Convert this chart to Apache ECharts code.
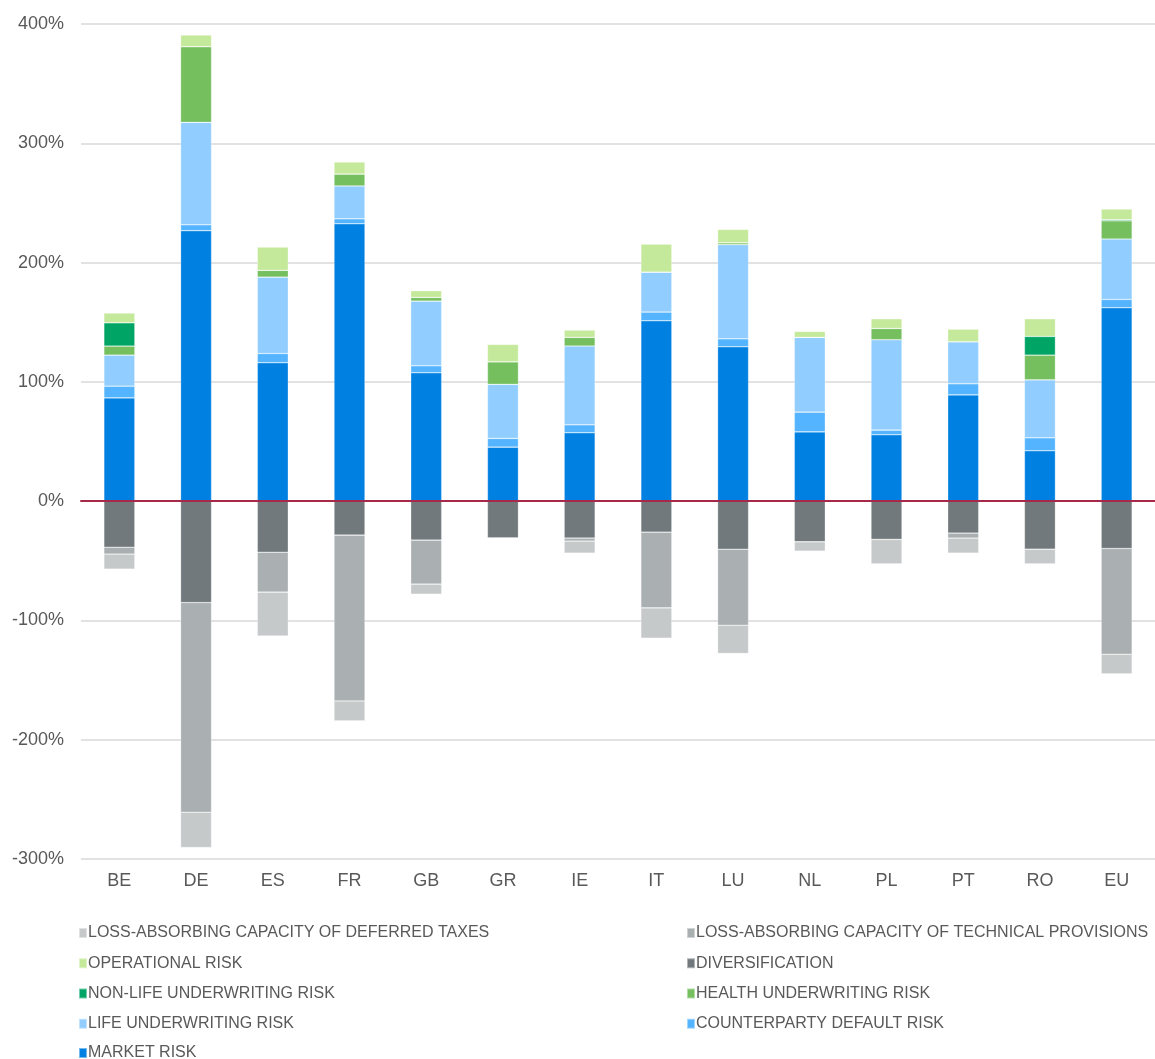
<!DOCTYPE html>
<html lang="en">
<head>
    <meta charset="UTF-8">
    <title>SCR composition by country</title>
    <script src="https://cdn.jsdelivr.net/npm/echarts@6/dist/echarts.min.js"></script>
    <style>
        html, body { margin: 0; padding: 0; background: #fff; }
        #main { width: 1155px; height: 1059px; }
    </style>
</head>
<body>
<div id="main"></div>
<script>
    // countries
    var countries = ['BE', 'DE', 'ES', 'FR', 'GB', 'GR', 'IE', 'IT', 'LU', 'NL', 'PL', 'PT', 'RO', 'EU'];

    // positive components (% of SCR)
    var marketRisk       = [86.6, 226.7, 116.0, 232.5, 107.6, 45.3, 57.3, 151.2, 129.4, 58.1, 55.6, 89.1, 42.2, 162.1];
    var counterparty     = [9.8, 5.0, 7.8, 4.2, 5.9, 7.3, 6.7, 7.3, 6.7, 16.5, 3.9, 9.3, 10.9, 7.0];
    var lifeUw           = [26.0, 85.8, 64.0, 27.5, 54.2, 45.3, 66.0, 33.5, 78.9, 62.7, 75.8, 35.2, 48.6, 50.6];
    var healthUw         = [7.6, 63.5, 5.7, 10.0, 3.1, 18.9, 7.3, 0, 1.6, 0, 9.5, 0, 20.7, 15.3];
    var nonLifeUw        = [19.5, 0, 0, 0, 0, 0, 0, 0, 0, 0, 0, 0, 15.7, 0.9];
    var operational      = [8.2, 9.8, 19.5, 10.1, 5.6, 14.6, 6.1, 23.5, 11.2, 5.0, 8.1, 10.6, 14.8, 9.0];

    // negative components
    var diversification  = [-38.6, -85.0, -42.8, -28.5, -32.7, -31.0, -31.0, -26.0, -40.3, -34.1, -32.1, -26.8, -40.3, -39.7];
    var lacTechProv      = [-5.8, -175.8, -33.5, -139.0, -36.9, 0, -2.5, -63.5, -63.7, 0, 0, -4.2, 0, -88.6];
    var lacDefTaxes      = [-12.6, -29.6, -36.7, -16.7, -8.4, 0, -10.1, -25.4, -23.7, -7.8, -20.5, -12.6, -12.3, -16.5];

    var yTicks = [-300, -200, -100, 0, 100, 200, 300, 400];

    var names = {
        market: 'MARKET RISK',
        cp: 'COUNTERPARTY DEFAULT RISK',
        life: 'LIFE UNDERWRITING RISK',
        health: 'HEALTH UNDERWRITING RISK',
        nonlife: 'NON-LIFE UNDERWRITING RISK',
        op: 'OPERATIONAL RISK',
        div: 'DIVERSIFICATION',
        tp: 'LOSS-ABSORBING CAPACITY OF TECHNICAL PROVISIONS',
        dt: 'LOSS-ABSORBING CAPACITY OF DEFERRED TAXES'
    };

    function bar(name, data, color) {
        return {
            name: name,
            type: 'bar',
            stack: 'total',
            barWidth: 31,
            data: data,
            itemStyle: { color: color, borderColor: 'rgba(255,255,255,0.45)', borderWidth: 0.6 },
            emphasis: { disabled: true }
        };
    }

    var txt = '#595959';
    var font = 'Liberation Sans, Arial, sans-serif';

    // legend columns under the plot (last row split off so it doesn't wrap)
    function legendBlock(left, top, items) {
        return {
            orient: 'vertical',
            left: left, top: top,
            padding: 0,
            itemWidth: 8, itemHeight: 10, itemGap: 14.25,
            icon: 'rect',
            textStyle: { color: txt, fontSize: 16, fontFamily: font, padding: [0, 0, 0, -4] },
            data: items
        };
    }

    var myChart = echarts.init(document.getElementById('main'));
    var option = {
        animation: false,
        textStyle: { fontFamily: font },
        grid: { left: 81, top: 24, width: 1088, height: 835 },
        xAxis: {
            type: 'category',
            data: countries,
            z: 5,
            axisLine: { onZero: true, lineStyle: { color: '#A6294B', width: 2 } },
            axisTick: { show: false },
            axisLabel: { color: txt, fontSize: 18, fontFamily: font, margin: 13, verticalAlign: 'top' }
        },
        yAxis: {
            type: 'value',
            min: yTicks[0],
            max: yTicks[yTicks.length - 1],
            interval: 100,
            axisLine: { show: false },
            axisTick: { show: false },
            splitLine: { lineStyle: { color: '#D9D9D9', width: 1.5 } },
            axisLabel: { color: txt, fontSize: 18, fontFamily: font, margin: 17,
                formatter: function (v) { return v + '%'; } }
        },
        legend: [
            legendBlock(78, 925, [names.dt, names.op, names.nonlife, names.life]),
            legendBlock(78, 1045, [names.market]),
            legendBlock(686, 925, [names.tp, names.div, names.health, names.cp])
        ],
        series: [
            bar(names.market, marketRisk, '#0081E2'),
            bar(names.cp, counterparty, '#55B4FF'),
            bar(names.life, lifeUw, '#91CEFF'),
            bar(names.health, healthUw, '#75BF5F'),
            bar(names.nonlife, nonLifeUw, '#00A465'),
            bar(names.op, operational, '#C5E99B'),
            bar(names.div, diversification, '#71797C'),
            bar(names.tp, lacTechProv, '#AAAFB1'),
            bar(names.dt, lacDefTaxes, '#C6C9CA')
        ]
    };
    myChart.setOption(option);
</script>
</body>
</html>
